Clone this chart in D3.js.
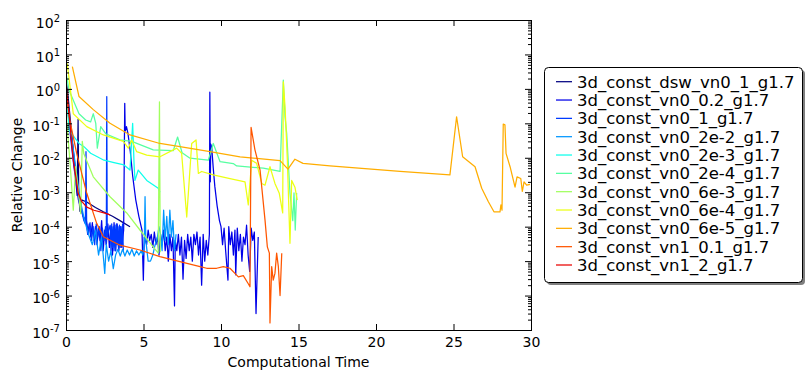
<!DOCTYPE html>
<html lang="en">
  <head>
    <meta charset="UTF-8" />
    <title>Relative Change vs Computational Time</title>
    <script src="https://cdn.jsdelivr.net/npm/d3@7"></script>
    <style>
      body {
        margin: 0;
        background: #fff;
      }
      svg {
        font-family: "DejaVu Sans", sans-serif;
      }
    </style>
  </head>
  <body>
    <script>
      // series names, in legend order
      const names = [
        "3d_const_dsw_vn0_1_g1.7",
        "3d_const_vn0_0.2_g1.7",
        "3d_const_vn0_1_g1.7",
        "3d_const_vn0_2e-2_g1.7",
        "3d_const_vn0_2e-3_g1.7",
        "3d_const_vn0_2e-4_g1.7",
        "3d_const_vn0_6e-3_g1.7",
        "3d_const_vn0_6e-4_g1.7",
        "3d_const_vn0_6e-5_g1.7",
        "3d_const_vn1_0.1_g1.7",
        "3d_const_vn1_2_g1.7"
      ];

      // time / relative change values
      const t_dsw_vn0_1 = [0.0, 0.15, 0.35, 0.55, 0.72, 0.78, 0.82, 0.9, 1.0, 1.34, 1.9, 2.41, 3.0, 3.48, 4.13];
      const v_dsw_vn0_1 = [2.0, 0.5, 0.06, 0.006, 8e-4, 0.13, 9e-4, 2.8e-4, 6e-4, 5.2e-4, 3.6e-4, 2.7e-4, 2e-4, 1.5e-4, 1e-4];

      const t_vn0_02 = [0.0, 0.2, 0.5, 0.8, 1.1,
        1.3, 1.4, 1.5, 1.6, 1.7, 1.8, 1.9, 2.0, 2.1, 2.2, 2.3, 2.4, 2.5, 2.6, 2.7, 2.8, 2.9, 3.0, 3.1, 3.2, 3.3, 3.4, 3.5, 3.6,
        3.72, 3.79, 3.82, 3.9, 4.0, 4.15, 4.3, 4.5, 4.7, 4.9, 4.99,
        5.05, 5.2, 5.3, 5.4, 5.5, 5.6, 5.7, 5.8, 5.9, 6.0,
        6.1, 6.2, 6.3, 6.4, 6.5, 6.6, 6.7, 6.8, 6.9, 7.0,
        7.05, 7.15, 7.25, 7.35, 7.45, 7.55, 7.65, 7.75, 7.85, 7.95, 8.05, 8.15, 8.25, 8.35, 8.45, 8.55, 8.65, 8.75, 8.85, 8.95, 9.05, 9.15, 9.25,
        9.28, 9.31, 9.34, 9.4, 9.5, 9.6, 9.75, 9.9,
        10.0, 10.1, 10.2, 10.3, 10.45, 10.5, 10.6, 10.7, 10.8, 10.9, 10.95,
        11.05, 11.15, 11.25, 11.35, 11.45, 11.55, 11.65, 11.75, 11.85, 11.95, 12.05, 12.15, 12.26, 12.4];
      const v_vn0_02 = [1.0, 0.1, 0.006, 6e-4, 2e-4,
        1.5e-4, 6e-5, 1.2e-4, 5e-5, 1.3e-4, 4e-5, 1e-4, 3e-5, 9e-5, 4e-5, 1.5e-4, 2e-5, 8e-5, 3e-5, 1.2e-4, 2.5e-5, 1e-4, 1.5e-5, 1.3e-4, 2e-5, 1.2e-4, 2e-5, 1e-4, 2.5e-5,
        8e-5, 0.38, 0.06, 0.08, 0.05, 0.015, 0.003, 6e-4, 2e-4, 8e-5, 2.8e-6,
        5e-5, 3e-5, 8e-5, 4e-5, 6e-5, 2.5e-5, 7e-5, 3e-5, 5e-5, 1.5e-5,
        6e-5, 3e-5, 8e-5, 2e-5, 5e-5, 1e-5, 6e-5, 2e-5, 5e-5, 5e-7,
        4e-5, 2e-5, 6e-5, 1.5e-5, 5e-5, 3e-6, 4e-5, 1.2e-5, 6e-5, 2e-5, 5e-5, 1e-5, 6e-5, 3e-5, 7e-5, 1.5e-5, 5e-5, 2e-6, 6e-5, 1e-5, 4e-5, 1.5e-5, 6e-5,
        0.8, 0.002, 0.025, 0.02, 0.005, 0.0015, 4e-4, 1.5e-4,
        1e-4, 3e-5, 9e-5, 2e-5, 2.8e-6, 1e-4, 3e-5, 7e-5, 1.5e-5, 8e-5, 4e-6,
        9e-5, 2e-5, 6e-5, 1e-5, 5e-5, 3e-5, 1.1e-4, 1.5e-5, 5e-6, 9e-5, 4e-5, 7e-5, 3e-7, 5e-5];

      const t_vn0_1 = [0.0, 0.2, 0.45, 0.7, 0.95, 1.15, 1.25, 1.29, 1.33,
        1.45, 1.55, 1.65, 1.75, 1.85, 1.95, 2.05, 2.15, 2.25, 2.35, 2.45, 2.55,
        2.6, 2.63, 2.66, 2.75,
        2.85, 2.9, 2.95, 3.0, 3.05, 3.1, 3.15, 3.2, 3.25, 3.3, 3.35, 3.4, 3.45, 3.5, 3.55, 3.6, 3.65, 3.7];
      const v_vn0_1 = [0.8, 0.15, 0.02, 0.002, 4e-4, 1.5e-4, 1.2e-4, 0.015, 1.5e-4,
        6e-5, 1.3e-4, 4e-5, 1e-4, 3e-5, 1.2e-4, 5e-5, 1e-4, 2e-5, 9e-5, 4e-5, 1e-4,
        3e-5, 0.6, 5e-5, 8e-5,
        1.1e-4, 2e-5, 1.2e-4, 2.5e-5, 1e-4, 2e-5, 1.1e-4, 2e-5, 1.2e-4, 3e-5, 1e-4, 2e-5, 1.1e-4, 2.5e-5, 1e-4, 3e-5, 1.2e-4, 2e-5];

      const t_vn0_2e2 = [0.0, 0.2, 0.45, 0.7, 0.95, 1.2, 1.45,
        1.7, 1.9, 2.1, 2.3, 2.5, 2.6, 2.75, 2.9,
        3.05, 3.2, 3.35, 3.5, 3.65, 3.8, 3.95, 4.1, 4.25, 4.4, 4.55, 4.7, 4.85,
        4.95, 5.05, 5.1, 5.15, 5.3, 5.45, 5.6, 5.75, 5.9, 6.0,
        6.1, 6.2, 6.3, 6.4, 6.5, 6.6, 6.7, 6.8, 6.9, 7.0, 7.1];
      const v_vn0_2e2 = [0.5, 0.12, 0.02, 0.003, 5e-4, 1.5e-4, 6e-5,
        3e-5, 8e-5, 1.5e-5, 5e-5, 4.4e-6, 3e-5, 1e-5, 2e-5,
        6e-6, 1.5e-5, 2.2e-5, 1.4e-5, 2.2e-5, 1.4e-5, 2.1e-5, 1.5e-5, 2.2e-5, 1.4e-5, 2e-5, 1.5e-5, 2e-5,
        1.5e-5, 3e-5, 7.4e-4, 4e-5, 1e-5, 1e-5, 1.5e-5, 3e-5, 5e-5, 1e-4,
        6e-5, 2e-5, 3e-4, 4e-5, 2e-4, 3e-5, 3e-4, 5e-5, 1.5e-4, 2e-5, 6e-5];

      const t_vn0_2e3 = [0.0, 0.1, 0.19, 0.84, 1.16, 1.59, 2.02, 2.45, 3.1, 3.74, 4.13, 4.3, 4.39, 4.45, 4.66, 5.21, 5.95, 6.06];
      const v_vn0_2e3 = [1.5, 0.3, 0.064, 0.026, 0.021, 0.0135, 0.0107, 0.0085, 0.0072, 0.0062, 0.0044, 0.1, 0.0068, 0.0022, 0.0044, 0.0022, 0.0013, 0.001];

      const t_vn0_2e4 = [0.0, 0.19, 0.84, 1.27, 1.59, 1.76, 1.92, 2.02, 2.24, 2.56, 3.48, 4.24, 5.63, 6.92, 7.2, 7.49,
        8.0, 9.18, 9.5, 9.94, 10.79, 11.01, 12.73, 13.81, 14.02, 14.13, 14.24, 14.45, 14.63, 14.71, 14.79, 14.88];
      const v_vn0_2e4 = [3.0, 0.93, 0.19, 0.125, 0.11, 0.19, 0.1, 0.019, 0.08, 0.05, 0.033, 0.03, 0.017, 0.016, 0.04, 0.014,
        0.0097, 0.0085, 0.026, 0.0077, 0.0068, 0.0058, 0.005, 0.004, 1.8, 0.155, 0.05, 9.5e-4, 1.5e-4, 9.5e-4, 8e-5, 9.5e-4];

      const t_vn0_6e3 = [0.0, 0.04, 0.25, 0.47, 0.62, 0.95, 1.05, 1.15, 1.76, 2.84, 3.92, 4.77, 5.63, 5.95, 6.03, 6.08];
      const v_vn0_6e3 = [50, 0.12, 0.0085, 3e-4, 0.0055, 2.4e-4, 0.03, 0.013, 0.0028, 7.4e-4, 2.5e-4, 8e-5, 2.6e-5, 1.7e-5, 0.42, 1.8e-5];

      const t_vn0_6e4 = [0.08, 0.47, 1.34, 2.41, 3.7, 4.02, 4.24, 4.56, 5.21, 6.06, 7.14, 7.46, 7.79, 8.11, 8.39, 8.54, 8.75, 9.5,
        10.58, 11.55, 11.76, 11.98, 12.3, 12.63, 12.84, 13.16, 13.48, 13.76, 13.98, 14.02, 14.13, 14.19, 14.28, 14.45, 14.56, 14.77, 14.92];
      const v_vn0_6e4 = [5.5, 0.19, 0.08, 0.046, 0.03, 0.019, 0.033, 0.015, 0.012, 0.0107, 0.019, 0.0135, 1.9e-4, 0.026, 0.033, 0.0035, 0.004, 0.0032,
        0.0025, 0.002, 4.3e-4, 0.0085, 0.0069, 0.0018, 0.0016, 0.0055, 0.0018, 9.3e-4, 2.5e-4, 1.6, 0.3, 0.08, 0.0085, 3.3e-5, 0.0022, 0.0014, 5.9e-4];

      const t_vn0_6e5 = [0.41, 0.84, 1.76, 2.84, 4.13, 6.06, 7.35, 9.29, 11.23, 13.81, 14.32, 14.77, 15.29, 17.03, 21.55, 24.77, 25.2, 25.59,
        26.39, 26.82, 27.25, 27.61, 28.0, 28.06, 28.13, 28.21, 28.32, 28.39, 28.65, 28.97, 29.1, 29.34, 29.44, 29.55, 29.72, 29.94];
      const v_vn0_6e5 = [4.4, 0.6, 0.25, 0.1, 0.046, 0.026, 0.021, 0.015, 0.0107, 0.0083, 0.0047, 0.0091, 0.0069, 0.0058, 0.004, 0.0032, 0.155, 0.0107,
        0.0055, 0.0013, 5.3e-4, 2.7e-4, 2.7e-4, 4.3e-4, 3e-4, 0.095, 0.09, 0.0134, 0.0055, 0.0014, 0.0028, 0.0025, 0.00105, 0.002, 0.0016, 0.0017];

      const t_vn1_01 = [0.0, 0.25, 0.69, 1.34, 1.98, 2.41, 3.48, 4.77, 6.06, 7.35, 8.65, 9.08, 9.72, 10.15, 10.58, 11.12, 11.44,
        11.76, 11.87, 11.94, 12.19, 12.52, 12.84, 12.99, 13.12, 13.16, 13.27, 13.37, 13.48, 13.59, 13.7, 13.81, 13.92];
      const v_vn1_01 = [0.9, 0.12, 0.0135, 9.3e-4, 1.25e-4, 5.1e-5, 2.9e-5, 2.1e-5, 1.35e-5, 9.6e-6, 6.9e-6, 6.2e-6, 6.2e-6, 6.9e-6, 6.2e-6, 3.5e-6, 3.8e-6,
        2.2e-6, 1.8e-6, 0.076, 0.017, 0.0044, 1.55e-4, 2.6e-5, 1.7e-5, 1.6e-7, 6.9e-6, 2.8e-6, 4.4e-6, 1.7e-5, 6.9e-6, 1e-6, 1.7e-5];

      const t_vn1_2 = [0.0, 0.1, 0.25, 0.47, 0.65, 0.79, 1.0, 1.34, 1.8, 2.45, 2.84];
      const v_vn1_2 = [1.5, 0.5, 0.1, 0.0085, 0.0025, 9.3e-4, 5.5e-4, 3.7e-4, 3e-4, 2.5e-4, 2.2e-4];

      const xTicks = [0, 5, 10, 15, 20, 25, 30];
      const yExponents = [-7, -6, -5, -4, -3, -2, -1, 0, 1, 2];

      // jet colours, one per series
      const colors = ["#000080", "#0000e9", "#003aff", "#0097ff", "#0bffec", "#56ffa1",
        "#a1ff5e", "#ecff13", "#ffad00", "#ff5600", "#e90200"];

      const series = [
        [t_dsw_vn0_1, v_dsw_vn0_1], [t_vn0_02, v_vn0_02], [t_vn0_1, v_vn0_1],
        [t_vn0_2e2, v_vn0_2e2], [t_vn0_2e3, v_vn0_2e3], [t_vn0_2e4, v_vn0_2e4],
        [t_vn0_6e3, v_vn0_6e3], [t_vn0_6e4, v_vn0_6e4], [t_vn0_6e5, v_vn0_6e5],
        [t_vn1_01, v_vn1_01], [t_vn1_2, v_vn1_2]
      ].map(([t, v], i) => ({ name: names[i], color: colors[i], points: t.map((d, j) => [d, v[j]]) }));

      const width = 811;
      const height = 380;
      const plotLeft = 66, plotRight = 531, plotTop = 20, plotBottom = 330;
      const fontSize = 14;

      const svg = d3.select("body").append("svg")
        .attr("width", width)
        .attr("height", height);

      const x = d3.scaleLinear().domain([0, 30]).range([plotLeft, plotRight]);
      const y = d3.scaleLog().domain([1e-7, 1e2]).range([plotBottom, plotTop]);

      svg.append("clipPath").attr("id", "plot")
        .append("rect")
        .attr("x", plotLeft).attr("y", plotTop)
        .attr("width", plotRight - plotLeft).attr("height", plotBottom - plotTop);

      const line = d3.line().x(d => x(d[0])).y(d => y(d[1]));

      svg.append("g")
        .attr("clip-path", "url(#plot)")
        .selectAll("path")
        .data(series)
        .join("path")
        .attr("d", d => line(d.points))
        .attr("fill", "none")
        .attr("stroke", d => d.color)
        .attr("stroke-width", 1.25)
        .attr("stroke-linejoin", "round");

      // minor ticks on the log axis
      const minor = [];
      yExponents.slice(0, -1).forEach(e => {
        for (let k = 2; k <= 9; k++) minor.push(k * Math.pow(10, e));
      });
      const majorY = yExponents.map(e => Math.pow(10, e));

      const axisStyle = g => {
        g.select(".domain").remove();
        g.selectAll(".tick line").attr("stroke", "#000");
      };

      svg.append("g")
        .attr("transform", `translate(0,${plotBottom})`)
        .call(d3.axisBottom(x).tickValues(xTicks).tickSize(-6).tickPadding(7).tickFormat(d3.format("d")))
        .call(axisStyle)
        .call(g => g.selectAll("text").attr("font-size", fontSize).attr("fill", "#000").attr("font-family", "DejaVu Sans"));

      svg.append("g")
        .attr("transform", `translate(0,${plotTop})`)
        .call(d3.axisTop(x).tickValues(xTicks).tickSize(-6).tickFormat(""))
        .call(axisStyle);

      svg.append("g")
        .attr("transform", `translate(${plotLeft},0)`)
        .call(d3.axisLeft(y).tickValues(majorY).tickSize(-6).tickPadding(6))
        .call(axisStyle)
        .call(g => g.selectAll(".tick text")
          .text(null)
          .attr("dy", "0.5em")
          .attr("font-size", fontSize)
          .attr("fill", "#000")
          .attr("font-family", "DejaVu Sans")
          .each(function (d) {
            const t = d3.select(this);
            t.append("tspan").text("10");
            t.append("tspan").attr("dy", "-0.55em").attr("font-size", 10).text(Math.round(Math.log10(d)));
          }));

      svg.append("g")
        .attr("transform", `translate(${plotLeft},0)`)
        .call(d3.axisLeft(y).tickValues(minor).tickSize(-3).tickFormat(""))
        .call(axisStyle);

      svg.append("g")
        .attr("transform", `translate(${plotRight},0)`)
        .call(d3.axisRight(y).tickValues(majorY).tickSize(-6).tickFormat(""))
        .call(axisStyle);

      svg.append("g")
        .attr("transform", `translate(${plotRight},0)`)
        .call(d3.axisRight(y).tickValues(minor).tickSize(-3).tickFormat(""))
        .call(axisStyle);

      // frame
      svg.append("rect")
        .attr("x", plotLeft + 0.5).attr("y", plotTop + 0.5)
        .attr("width", plotRight - plotLeft).attr("height", plotBottom - plotTop)
        .attr("fill", "none")
        .attr("stroke", "#000")
        .attr("stroke-width", 1);

      svg.append("text")
        .attr("x", (plotLeft + plotRight) / 2)
        .attr("y", 367)
        .attr("text-anchor", "middle")
        .attr("font-size", fontSize)
        .text("Computational Time");

      svg.append("text")
        .attr("transform", "translate(22,175) rotate(-90)")
        .attr("text-anchor", "middle")
        .attr("font-size", fontSize)
        .text("Relative Change");

      // legend
      const lx = 544, ly = 67, lw = 258, lh = 215;
      svg.append("rect")
        .attr("x", lx + 3).attr("y", ly + 3)
        .attr("width", lw).attr("height", lh)
        .attr("rx", 4)
        .attr("fill", "#000")
        .attr("opacity", 0.5);
      svg.append("rect")
        .attr("x", lx + 0.5).attr("y", ly + 0.5)
        .attr("width", lw).attr("height", lh)
        .attr("rx", 4)
        .attr("fill", "#fff")
        .attr("stroke", "#000");

      const items = svg.append("g")
        .selectAll("g")
        .data(series)
        .join("g")
        .attr("transform", (d, i) => `translate(0,${81.7 + i * 18.33})`);
      items.append("line")
        .attr("x1", 556).attr("x2", 572)
        .attr("stroke", d => d.color)
        .attr("stroke-width", 1.25);
      items.append("text")
        .attr("x", 577)
        .attr("y", 6)
        .attr("font-size", 16.5)
        .text(d => d.name);
    </script>
  </body>
</html>
